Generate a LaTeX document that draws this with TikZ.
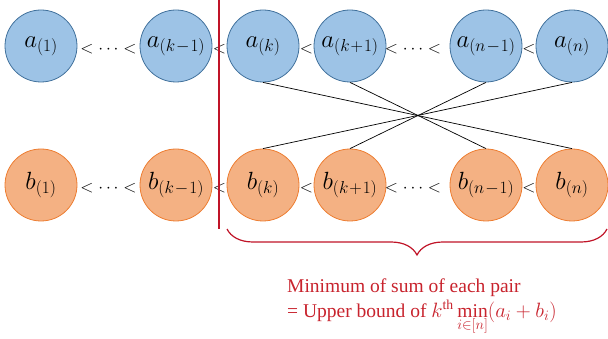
\documentclass[tikz,border=0pt]{standalone}
\usepackage{fontspec}
\setmainfont{Liberation Serif}
\usetikzlibrary{decorations.pathreplacing}
\newcommand{\sbx}[1]{\mbox{\fontsize{17}{19}\selectfont\medmuskip=1mu$#1$}}
\definecolor{bfill}{HTML}{9DC3E6}
\definecolor{bdraw}{HTML}{41719C}
\definecolor{ofill}{HTML}{F4B183}
\definecolor{odraw}{HTML}{ED7D31}
\definecolor{redline}{RGB}{192,20,40}
\definecolor{redtext}{RGB}{200,35,45}
\begin{document}
\begin{tikzpicture}[x=1pt,y=-1pt,
  acirc/.style={circle, fill=bfill, draw=bdraw, line width=0.8pt, minimum size=72pt, inner sep=0pt, font=\fontsize{25}{28}\selectfont},
  bcirc/.style={circle, fill=ofill, draw=odraw, line width=0.8pt, minimum size=72pt, inner sep=0pt, font=\fontsize{25}{28}\selectfont},
  rel/.style={inner sep=0pt, font=\fontsize{17}{20}\selectfont},
  cross/.style={black, line width=0.7pt},
  note/.style={text=redtext, inner sep=0pt, anchor=base west, font=\fontsize{19.5}{23}\selectfont}]
\useasboundingbox (0,0) rectangle (608,339);
% top row
\node[acirc] (a1) at (41,46) {$a_{\sbx{(1)}}$};
\node[acirc] (akm) at (176,46) {$a_{\sbx{(k-1)}}$};
\node[acirc] (ak) at (263,46) {$a_{\sbx{(k)}}$};
\node[acirc] (akp) at (350,46) {$a_{\sbx{(k+1)}}$};
\node[acirc] (anm) at (486,46) {$a_{\sbx{(n-1)}}$};
\node[acirc] (an) at (572,46) {$a_{\sbx{(n)}}$};
% bottom row
\node[bcirc] (b1) at (41,185) {$b_{\sbx{(1)}}$};
\node[bcirc] (bkm) at (176,185) {$b_{\sbx{(k-1)}}$};
\node[bcirc] (bk) at (263,185) {$b_{\sbx{(k)}}$};
\node[bcirc] (bkp) at (350,185) {$b_{\sbx{(k+1)}}$};
\node[bcirc] (bnm) at (486,185) {$b_{\sbx{(n-1)}}$};
\node[bcirc] (bn) at (572,185) {$b_{\sbx{(n)}}$};
% relations top
\node[rel] (ra1) at (108.5,49) {$<\cdots<$};
\node[rel] (ra2) at (219.5,49) {$<$};
\node[rel] (ra3) at (306.5,49) {$<$};
\node[rel] (ra4) at (413,49) {$<\cdots<$};
\node[rel] (ra5) at (529,49) {$<$};
% relations bottom
\node[rel] (rb1) at (108.5,188) {$<\cdots<$};
\node[rel] (rb2) at (219.5,188) {$<$};
\node[rel] (rb3) at (306.5,188) {$<$};
\node[rel] (rb4) at (413,188) {$<\cdots<$};
\node[rel] (rb5) at (529,188) {$<$};
% crossing lines
\draw[cross] (ak.south) -- (bn.north);
\draw[cross] (akp.south) -- (bnm.north);
\draw[cross] (anm.south) -- (bkp.north);
\draw[cross] (an.south) -- (bk.north);
% red divider
\coordinate (lt) at (219,0);
\coordinate (lb) at (219,229);
\draw[redline, line width=1.3pt] (lt) -- (lb);
% brace
\coordinate (bl) at (227,229);
\coordinate (br) at (607,229);
\draw[redline, line width=1.2pt, decorate, decoration={brace, mirror, amplitude=26pt}] (bl) -- (br);
% note
\node[note] (n1) at (287,292) {Minimum of sum of each pair};
\node[note] (n2) at (287,317) {= Upper bound of $k^{\mathrm{th}}\min\limits_{i\in[n]}(a_i+b_i)$};
\end{tikzpicture}
\end{document}
